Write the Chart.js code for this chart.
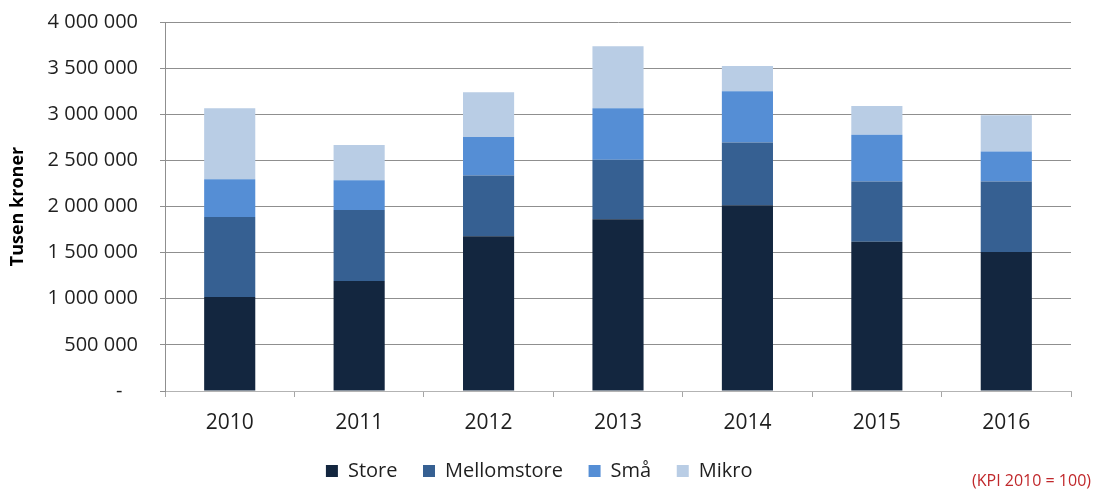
<!DOCTYPE html>
<html>
<head>
<meta charset="utf-8">
<script src="https://cdn.jsdelivr.net/npm/chart.js@4/dist/chart.umd.min.js"></script>
<style>
  html, body { margin: 0; padding: 0; background: #fff; }
  #wrap { position: relative; width: 1094px; height: 493px; }
  #kpi { position: absolute; right: 3px; top: 469px; font: 16px "Open Sans", sans-serif; color: #c0282b; white-space: nowrap; }
</style>
</head>
<body>
<div id="wrap">
  <canvas id="c" width="1094" height="493"></canvas>
  <div id="kpi">(KPI 2010 = 100)</div>
</div>
<script>
const categories = ['2010', '2011', '2012', '2013', '2014', '2015', '2016'];
const store       = [1019000, 1192000, 1677000, 1861000, 2013000, 1619000, 1507000];
const mellomstore = [867000, 770000, 658000, 647000, 680000, 651000, 763000];
const smaa        = [409000, 322000, 418000, 556000, 556000, 509000, 325000];
const mikro       = [769000, 383000, 485000, 673000, 274000, 310000, 394000];
const seriesNames = ['Store', 'Mellomstore', 'Små', 'Mikro'];
const yMax = 4000000;
const yStep = 500000;
const yTitle = 'Tusen kroner';

const colors = ['#13263f', '#366092', '#558ed5', '#b9cde5'];
const fontFam = '"Open Sans", sans-serif';
const textColor = '#1f1f1f';

function fmt(v) {
  if (v === 0) return '-   ';
  return String(Math.round(v)).replace(/\B(?=(\d{3})+(?!\d))/g, ' ');
}

const ds = [store, mellomstore, smaa, mikro].map((d, i) => ({
  label: seriesNames[i],
  data: d,
  backgroundColor: colors[i],
  borderWidth: 0,
  categoryPercentage: 1,
  barPercentage: 0.395
}));

new Chart(document.getElementById('c'), {
  type: 'bar',
  data: { labels: categories, datasets: ds },
  options: {
    responsive: false,
    animation: false,
    layout: { padding: { top: 22, right: 0, bottom: 2, left: 0 } },
    plugins: {
      tooltip: { enabled: false },
      legend: {
        position: 'bottom',
        labels: {
          boxWidth: 12, boxHeight: 12,
          padding: 10,
          color: textColor,
          font: { family: fontFam, size: 20 },
          generateLabels: chart => {
            const base = Chart.defaults.plugins.legend.labels.generateLabels(chart);
            base.forEach(l => { l.text = l.text + '   '; });
            return base;
          }
        }
      }
    },
    scales: {
      x: {
        stacked: true,
        afterFit: s => { s.height = 60; },
        grid: { display: true, drawOnChartArea: false, offset: true, tickLength: 6, color: '#a6a6a6' },
        border: { color: '#b3b3b3', width: 1 },
        ticks: { color: textColor, padding: 13, font: { family: fontFam, size: 21 } }
      },
      y: {
        stacked: true,
        min: 0, max: yMax,
        afterFit: s => { s.width = 165; s.paddingTop = 0; s.paddingBottom = 0; },
        grid: { color: '#8f8f8f', tickLength: 5 },
        border: { color: '#8f8f8f', width: 1 },
        ticks: {
          stepSize: yStep,
          padding: 22,
          color: textColor,
          font: { family: fontFam, size: 20 },
          callback: v => fmt(v)
        },
        title: {
          display: true,
          text: yTitle,
          color: '#000',
          padding: { top: 7, bottom: 0 },
          font: { family: fontFam, size: 18, weight: 'bold' }
        }
      },
      yR: {
        type: 'linear',
        position: 'right',
        display: true,
        afterFit: s => { s.width = 23; s.paddingTop = 0; s.paddingBottom = 0; },
        grid: { display: false },
        border: { display: false },
        ticks: { display: false }
      }
    }
  }
});
</script>
</body>
</html>
